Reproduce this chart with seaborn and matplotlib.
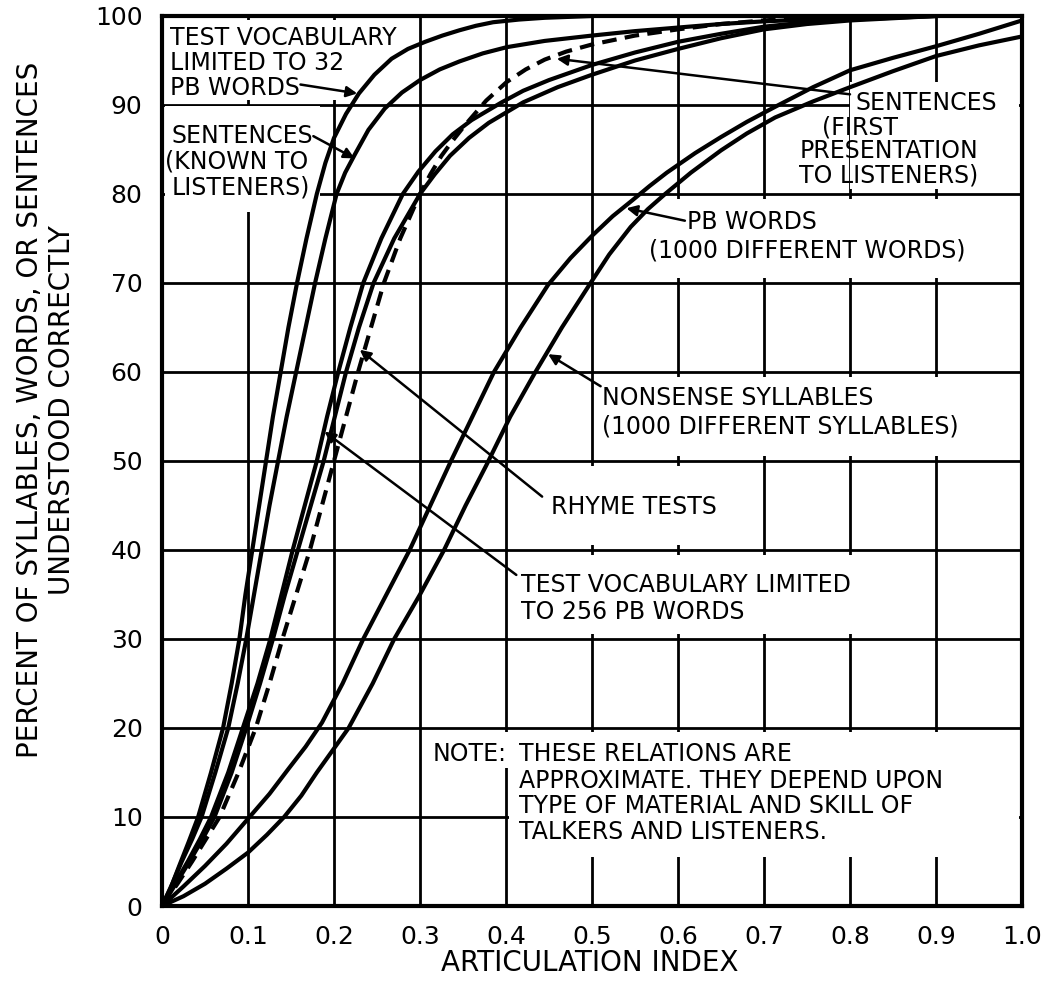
import numpy as np
import pandas as pd
import matplotlib
matplotlib.use("Agg")
import matplotlib.pyplot as plt
from matplotlib.patches import Rectangle
import seaborn as sns

# ---- data (articulation index vs. percent correct) ----
vocab32_x = [0, 0.01, 0.02, 0.031, 0.042, 0.057, 0.071, 0.081, 0.09, 0.097, 0.105, 0.113, 0.121, 0.129,
             0.138, 0.147, 0.157, 0.168, 0.18, 0.19, 0.2, 0.214, 0.229, 0.247, 0.267, 0.286, 0.306,
             0.326, 0.346, 0.365, 0.385, 0.415, 0.445, 0.5]
vocab32_y = [0, 2, 4.5, 7.2, 10, 15, 20, 25, 30, 35, 40, 45, 50, 55,
             60, 65, 70, 75, 80, 83.5, 86.3, 89, 91.3, 93.4, 95.2, 96.3, 97.1,
             97.8, 98.4, 98.9, 99.3, 99.6, 99.8, 100]

sent_known_x = [0, 0.012, 0.023, 0.035, 0.046, 0.062, 0.077, 0.088, 0.098, 0.107, 0.116, 0.125, 0.135,
                0.145, 0.156, 0.167, 0.178, 0.19, 0.203, 0.213, 0.224, 0.24, 0.259, 0.279, 0.3, 0.323,
                0.346, 0.373, 0.401, 0.445, 0.5, 0.55, 0.6, 0.65, 0.7, 0.8, 0.9]
sent_known_y = [0, 2.5, 5, 7.5, 10, 15, 20, 25, 30, 35, 40, 45, 50,
                55, 60, 65, 70, 75, 80, 82.4, 84.4, 87.2, 89.6, 91.4, 92.8, 94,
                94.9, 95.8, 96.5, 97.2, 97.8, 98.3, 98.7, 99.1, 99.4, 99.8, 100]

vocab256_x = [0, 0.015, 0.03, 0.044, 0.057, 0.077, 0.094, 0.111, 0.126, 0.139, 0.152, 0.166, 0.18,
              0.192, 0.205, 0.219, 0.234, 0.255, 0.28, 0.298, 0.318, 0.338, 0.36, 0.395, 0.42, 0.45,
              0.5, 0.55, 0.6, 0.65, 0.7, 0.75, 0.8, 0.9]
vocab256_y = [0, 2.5, 5, 7.5, 10, 15, 20, 25, 30, 35, 40, 45, 50,
              55, 60, 65, 70, 75, 80, 82.5, 84.8, 86.7, 88.3, 90.3, 91.6, 92.8,
              94.5, 95.9, 97.1, 98, 98.8, 99.3, 99.6, 100]

rhyme_x = [0, 0.016, 0.032, 0.047, 0.061, 0.081, 0.098, 0.114, 0.129, 0.143, 0.158, 0.173, 0.188,
           0.201, 0.214, 0.229, 0.246, 0.27, 0.3, 0.317, 0.335, 0.357, 0.38, 0.42, 0.46, 0.5,
           0.55, 0.6, 0.65, 0.7, 0.75, 0.8, 0.9]
rhyme_y = [0, 2.5, 5, 7.5, 10, 15, 20, 25, 30, 35, 40, 45, 50,
           55, 60, 65, 70, 75, 80, 82.2, 84.3, 86.3, 88, 90.3, 92, 93.4,
           95, 96.3, 97.5, 98.5, 99.1, 99.5, 100]

sent_first_x = [0, 0.018, 0.035, 0.051, 0.067, 0.089, 0.109, 0.125, 0.14, 0.156, 0.172, 0.186, 0.2,
                0.214, 0.228, 0.243, 0.258, 0.277, 0.3, 0.312, 0.325, 0.338, 0.352, 0.377, 0.401,
                0.423, 0.445, 0.47, 0.5, 0.55, 0.6, 0.65, 0.7, 0.78]
sent_first_y = [0, 2.5, 5, 7.5, 10, 15, 20, 25, 30, 35, 40, 45, 50,
                55, 60, 65, 70, 75, 80, 82.2, 84.3, 86, 87.7, 90.5, 92.6,
                94, 95.1, 96, 96.8, 97.8, 98.5, 99.1, 99.5, 100]

pb1000_x = [0, 0.025, 0.05, 0.075, 0.1, 0.125, 0.147, 0.167, 0.186, 0.21, 0.234, 0.261, 0.288,
            0.312, 0.336, 0.361, 0.386, 0.417, 0.449, 0.475, 0.5, 0.524, 0.547, 0.567, 0.587,
            0.62, 0.65, 0.68, 0.713, 0.757, 0.8, 0.85, 0.9, 0.95, 1.0]
pb1000_y = [0, 2.2, 4.5, 7, 9.8, 12.6, 15.4, 17.9, 20.6, 25, 30, 35, 40,
            45, 50, 55, 60, 65, 69.8, 72.8, 75.3, 77.5, 79.3, 80.9, 82.4,
            84.6, 86.4, 88.1, 89.8, 92, 93.9, 95.3, 96.6, 98, 99.5]

nonsense_x = [0, 0.025, 0.05, 0.075, 0.1, 0.122, 0.142, 0.162, 0.18, 0.2, 0.217, 0.245, 0.27, 0.3,
              0.328, 0.353, 0.377, 0.405, 0.433, 0.465, 0.497, 0.52, 0.545, 0.565, 0.585, 0.615,
              0.65, 0.68, 0.713, 0.757, 0.8, 0.85, 0.9, 0.95, 1.0]
nonsense_y = [0, 1.1, 2.5, 4.2, 6, 8, 10, 12.4, 15, 17.7, 20, 25, 30, 35,
              40, 45, 49.5, 55, 59.8, 65, 69.8, 73.2, 76.3, 78.3, 80, 82.4,
              84.9, 86.8, 88.6, 90.4, 92, 93.8, 95.5, 96.7, 97.7]

x_ticks = [0, 0.1, 0.2, 0.3, 0.4, 0.5, 0.6, 0.7, 0.8, 0.9, 1.0]
x_tick_labels = ["0", "0.1", "0.2", "0.3", "0.4", "0.5", "0.6", "0.7", "0.8", "0.9", "1.0"]
y_ticks = [0, 10, 20, 30, 40, 50, 60, 70, 80, 90, 100]
y_tick_labels = ["0", "10", "20", "30", "40", "50", "60", "70", "80", "90", "100"]

curves = [
    ("32 PB words", vocab32_x, vocab32_y, False),
    ("Sentences known", sent_known_x, sent_known_y, False),
    ("256 PB words", vocab256_x, vocab256_y, False),
    ("Rhyme tests", rhyme_x, rhyme_y, False),
    ("Sentences first", sent_first_x, sent_first_y, True),
    ("PB words 1000", pb1000_x, pb1000_y, False),
    ("Nonsense syllables", nonsense_x, nonsense_y, False),
]

sns.set_theme(style="white")
plt.rcParams["font.family"] = ["DejaVu Sans"]

fig = plt.figure(figsize=(10.46, 9.93), dpi=100)
ax = fig.add_axes([162 / 1046, 1 - 906 / 993, 860 / 1046, 890 / 993])

for name, xs, ys, dashed in curves:
    df = pd.DataFrame({"x": xs, "y": ys})
    sns.lineplot(data=df, x="x", y="y", ax=ax, color="black", lw=3.0,
                 sort=False, estimator=None, zorder=3,
                 linestyle=(0, (3.5, 2.0)) if dashed else "-")

ax.set_xlim(0, 1.0)
ax.set_ylim(0, 100)
ax.set_xticks(x_ticks)
ax.set_xticklabels(x_tick_labels)
ax.set_yticks(y_ticks)
ax.set_yticklabels(y_tick_labels)
ax.tick_params(length=0, labelsize=18, colors="black")
ax.tick_params(axis="x", pad=14)
ax.tick_params(axis="y", pad=14)
ax.set_axisbelow(True)
ax.grid(True, color="black", lw=2.0)
for s in ax.spines.values():
    s.set_color("black")
    s.set_linewidth(3.0)
    s.set_zorder(5)
ax.set_xlabel("")
ax.set_ylabel("")

# blank label areas (gridlines interrupted in the original)
blank = [
    (0.004, 90.6, 0.292, 9.0),    # top-left label
    (0.004, 78.0, 0.180, 11.9),   # sentences known
    (0.800, 80.6, 0.196, 12.0),   # sentences first
    (0.560, 70.6, 0.436, 8.8),    # PB words
    (0.505, 50.6, 0.491, 8.8),    # nonsense
    (0.440, 40.6, 0.255, 8.8),    # rhyme
    (0.410, 30.6, 0.485, 8.8),    # 256 words
    (0.404, 5.5, 0.592, 14.0),    # note
    (0.395, 15.5, 0.02, 4.0),     # note (gap in 0.4 line)
]
for x0, y0, w, h in blank:
    ax.add_patch(Rectangle((x0, y0), w, h, facecolor="white", edgecolor="none", zorder=1))

fs = 17
txt = dict(fontsize=fs, color="black", zorder=4, va="center", ha="left", linespacing=1.0)
ax.text(0.009, 97.5, "TEST VOCABULARY", **txt)
ax.text(0.009, 94.7, "LIMITED TO 32", **txt)
ax.text(0.009, 91.9, "PB WORDS", **txt)

ax.text(0.011, 86.5, "SENTENCES", **txt)
ax.text(0.004, 83.6, "(KNOWN TO", **txt)
ax.text(0.011, 80.7, "LISTENERS)", **txt)

ax.text(0.806, 90.2, "SENTENCES", **txt)
ax.text(0.767, 87.5, "(FIRST", **txt)
ax.text(0.741, 84.8, "PRESENTATION", **txt)
ax.text(0.741, 82.1, "TO LISTENERS)", **txt)

ax.text(0.611, 76.9, "PB WORDS", **txt)
ax.text(0.566, 73.6, "(1000 DIFFERENT WORDS)", **txt)

ax.text(0.512, 57.1, "NONSENSE SYLLABLES", **txt)
ax.text(0.512, 53.9, "(1000 DIFFERENT SYLLABLES)", **txt)

ax.text(0.452, 44.8, "RHYME TESTS", **txt)

ax.text(0.418, 36.1, "TEST VOCABULARY LIMITED", **txt)
ax.text(0.418, 33.0, "TO 256 PB WORDS", **txt)

ax.text(0.315, 17.1, "NOTE:", **txt)
ax.text(0.415, 17.1, "THESE RELATIONS ARE", **txt)
ax.text(0.415, 14.1, "APPROXIMATE. THEY DEPEND UPON", **txt)
ax.text(0.415, 11.2, "TYPE OF MATERIAL AND SKILL OF", **txt)
ax.text(0.415, 8.3, "TALKERS AND LISTENERS.", **txt)

arrow = dict(arrowstyle="-|>", color="black", lw=1.8, mutation_scale=16, shrinkA=0, shrinkB=0)
leaders = [
    ((0.161, 92.3), (0.227, 91.3)),
    ((0.176, 86.5), (0.224, 84.0)),
    ((0.800, 91.2), (0.459, 95.2)),
    ((0.608, 77.0), (0.540, 78.4)),
    ((0.510, 58.4), (0.449, 62.0)),
    ((0.442, 46.0), (0.230, 62.5)),
    ((0.412, 37.2), (0.189, 53.3)),
]
for start, tip in leaders:
    ax.annotate("", xy=tip, xytext=start, arrowprops=arrow, zorder=4)

fig.text(590 / 1046, 1 - 963 / 993, "ARTICULATION INDEX", fontsize=20,
         ha="center", va="center", color="black")
fig.text(46 / 1046, 1 - 410 / 993,
         "PERCENT OF SYLLABLES, WORDS, OR SENTENCES\nUNDERSTOOD CORRECTLY",
         fontsize=20, rotation=90, ha="center", va="center", color="black",
         multialignment="center", linespacing=1.15)

fig.savefig("out.png", dpi=100, facecolor="white")
